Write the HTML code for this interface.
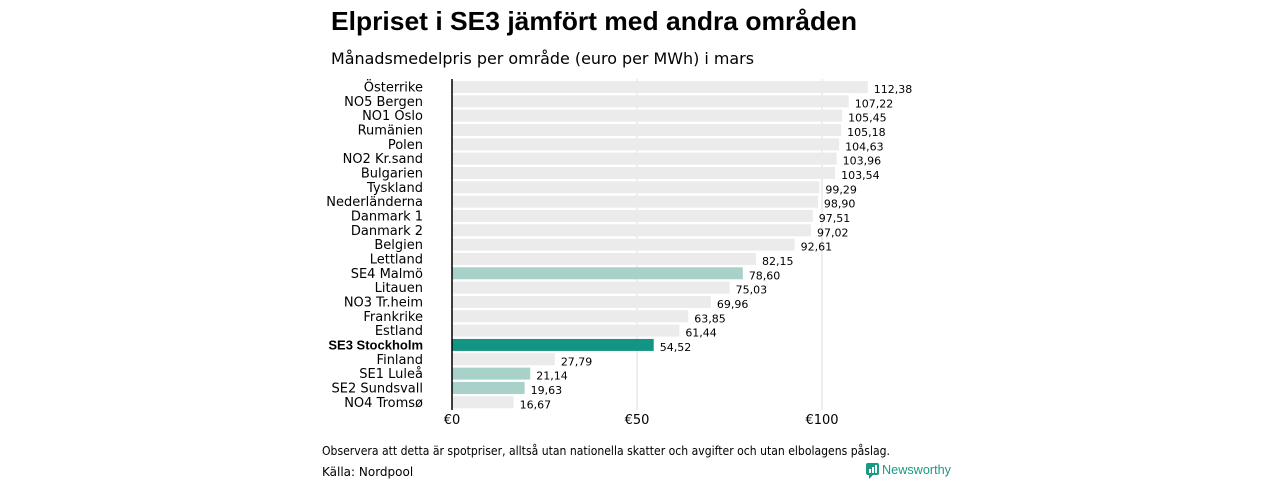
<!DOCTYPE html>
<html><head><meta charset="utf-8"><style>
body{margin:0;width:1280px;height:480px;background:#fff;overflow:hidden;font-family:"DejaVu Sans","Liberation Sans",sans-serif;color:#000}
svg{position:absolute;left:0;top:0}
</style></head><body>
<svg width="1280" height="480">
<text x="331" y="30" font-size="26" font-weight="bold" font-family="Liberation Sans" textLength="526" lengthAdjust="spacingAndGlyphs">Elpriset i SE3 jämfört med andra områden</text>
<text x="331" y="64" font-size="16" textLength="423" lengthAdjust="spacingAndGlyphs">Månadsmedelpris per område (euro per MWh) i mars</text>
<g id="grid"></g>
<g id="bars"></g>
<line x1="452" y1="79" x2="452" y2="410" stroke="#000" stroke-width="1.5"/>
<g id="xticks"></g>
<text x="322" y="455" font-size="12" textLength="568" lengthAdjust="spacingAndGlyphs">Observera att detta är spotpriser, alltså utan nationella skatter och avgifter och utan elbolagens påslag.</text>
<text x="322" y="476" font-size="12">Källa: Nordpool</text>
<g>
<rect x="866" y="463" width="13" height="12" rx="2" fill="#1a9a84"/>
<polygon points="869,475 873,475 869,479" fill="#1a9a84"/>
<rect x="869" y="469" width="2" height="4" fill="#fff"/><rect x="872" y="467" width="2" height="6" fill="#fff"/><rect x="875" y="465" width="2" height="8" fill="#fff"/>
<text x="882" y="474" font-size="12.5" font-family="Liberation Sans" textLength="69" lengthAdjust="spacingAndGlyphs" fill="#1a9a84">Newsworthy</text>
</g>
</svg>
<script>
const categories=["Österrike","NO5 Bergen","NO1 Oslo","Rumänien","Polen","NO2 Kr.sand","Bulgarien","Tyskland","Nederländerna","Danmark 1","Danmark 2","Belgien","Lettland","SE4 Malmö","Litauen","NO3 Tr.heim","Frankrike","Estland","SE3 Stockholm","Finland","SE1 Luleå","SE2 Sundsvall","NO4 Tromsø"];
const values=[112.38,107.22,105.45,105.18,104.63,103.96,103.54,99.29,98.90,97.51,97.02,92.61,82.15,78.60,75.03,69.96,63.85,61.44,54.52,27.79,21.14,19.63,16.67];
const kinds=["o","o","o","o","o","o","o","o","o","o","o","o","o","se","o","o","o","o","main","o","se","se","o"];
const tickValues=[0,50,100];
const tickLabels=["€0","€50","€100"];
const NS="http://www.w3.org/2000/svg";
const x=v=>452+v*3.7;
const y=i=>87+i*14.33;
const colors={o:"#ebebeb",se:"#a7d1c9",main:"#149584"};
function mk(t,a,p){const e=document.createElementNS(NS,t);for(const k in a)e.setAttribute(k,a[k]);p.appendChild(e);return e;}
const grid=document.getElementById('grid'),bars=document.getElementById('bars'),xt=document.getElementById('xticks');
tickValues.forEach((v,i)=>{
 if(v>0){const l=mk('line',{x1:x(v),x2:x(v),y1:79,y2:410,stroke:'#ddd','stroke-width':1},grid);
 
 }
 const t=mk('text',{x:x(v),y:424,'font-size':13,'text-anchor':'middle'},xt);t.textContent=tickLabels[i];
 
 
});
categories.forEach((c,i)=>{
 const main=kinds[i]=='main';
 const r=mk('rect',{x:452,y:y(i)-6,width:x(values[i])-452,height:12,fill:colors[kinds[i]]},bars);
 
 
 const lb=mk('text',{x:423,y:y(i)+4.5,'font-size':13,'text-anchor':'end','font-weight':main?'bold':'normal','font-family':main?'Liberation Sans':'DejaVu Sans'},bars);
 lb.textContent=c;
 
 
 const vl=mk('text',{x:x(values[i])+6,y:y(i)+6,'font-size':11},bars);
 vl.textContent=values[i].toFixed(2).replace('.',',');
 
 
});
</script>
</body></html>
